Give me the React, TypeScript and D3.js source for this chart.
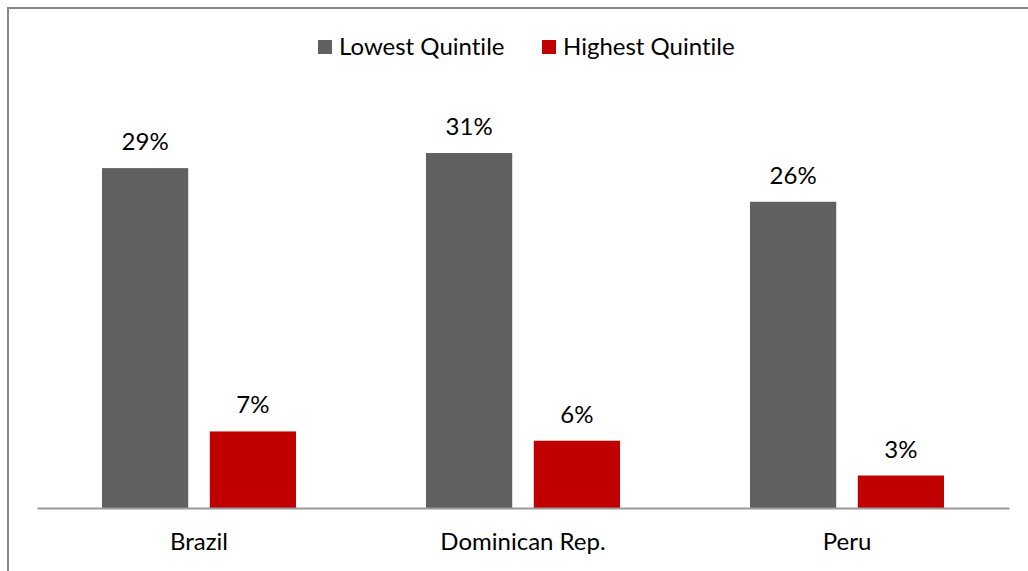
import { useEffect, useRef } from 'react';
import * as d3 from 'd3';

const width = 1028
const height = 571
const margin = { top: 102, right: 19, bottom: 63, left: 37 }

const countries = ['Brazil', 'Dominican Rep.', 'Peru']
const seriesNames = ['Lowest Quintile', 'Highest Quintile']
const lowest = [29.3, 30.6, 26.4]
const highest = [6.6, 5.8, 2.8]
const colors = ['#606060', '#c00000']

const font = 'Lato, "Open Sans", sans-serif'
const fontSize = '24px'

const App = () => {
  const ref = useRef<SVGSVGElement>(null)

  useEffect(() => {
    if (!ref.current) return
    const svg = d3.select(ref.current)
    svg.selectAll('*').remove()
    svg.style('font-variant-ligatures', 'none')

    const baseline = height - margin.bottom
    const x = d3.scaleBand()
      .domain(countries)
      .range([margin.left, width - margin.right])
    const inner = d3.scaleBand()
      .domain(seriesNames)
      .range([65, x.bandwidth() - 65])
      .paddingInner(0.2)
    const y = d3.scaleLinear().domain([0, 35]).range([baseline, margin.top])

    // outer frame (top and left edges visible)
    svg.append('line').attr('x1', 8).attr('x2', width).attr('y1', 8).attr('y2', 8)
      .attr('stroke', '#888').attr('stroke-width', 2)
    svg.append('line').attr('x1', 8).attr('x2', 8).attr('y1', 7).attr('y2', height)
      .attr('stroke', '#888').attr('stroke-width', 2)

    const rows = countries.map((c, i) => ({ c, vals: [lowest[i], highest[i]] }))

    const groups = svg.selectAll('.grp').data(rows).enter().append('g')
      .attr('class', 'grp')
      .attr('transform', d => `translate(${x(d.c)},0)`)

    groups.selectAll('rect')
      .data(d => d.vals.map((v, j) => ({ v, s: seriesNames[j], j })))
      .enter().append('rect')
      .attr('x', d => inner(d.s)!)
      .attr('width', inner.bandwidth())
      .attr('y', d => y(d.v))
      .attr('height', d => baseline - y(d.v))
      .attr('fill', d => colors[d.j])

    groups.selectAll('text.val')
      .data(d => d.vals.map((v, j) => ({ v, s: seriesNames[j] })))
      .enter().append('text')
      .attr('class', 'val')
      .attr('x', d => inner(d.s)! + inner.bandwidth() / 2)
      .attr('y', d => y(d.v) - 18)
      .attr('text-anchor', 'middle')
      .style('font-family', font)
      .style('font-size', fontSize)
      .text(d => `${Math.round(d.v)}%`)

    // axis
    const axis = svg.append('g')
      .attr('transform', `translate(0,${baseline})`)
      .call(d3.axisBottom(x).tickSize(0).tickPadding(25))
    axis.select('.domain').attr('stroke', '#999').attr('stroke-width', 2)
    axis.selectAll('text').style('font-family', font).style('font-size', fontSize).attr('fill', '#000')

    // legend
    const legendX = [318, 542]
    const leg = svg.append('g')
    seriesNames.forEach((s, i) => {
      leg.append('rect').attr('x', legendX[i]).attr('y', 40).attr('width', 14).attr('height', 14)
        .attr('fill', colors[i])
      leg.append('text').attr('x', legendX[i] + 21).attr('y', 55)
        .style('font-family', font).style('font-size', fontSize).text(s)
    })
  }, [])

  return (
    <svg
      ref={ref}
      width={width}
      height={height}
      style={{ position: 'absolute', left: 0, top: 0, background: '#fff' }}
    ></svg>
  )
}

export default App;
